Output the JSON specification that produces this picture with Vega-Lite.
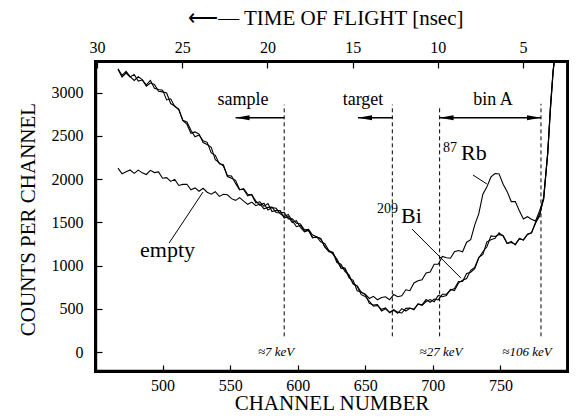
{
  "$schema": "https://vega.github.io/schema/vega-lite/v6.json",
  "width": 473,
  "height": 311,
  "autosize": {"type": "none"},
  "padding": {"left": 95, "top": 61, "right": 8, "bottom": 47},
  "background": "white",
  "config": {
    "view": {"stroke": "black", "strokeWidth": 2},
    "font": "Liberation Serif",
    "axis": {
      "domain": false, "grid": false, "ticks": true,
      "labelFont": "Liberation Serif", "titleFont": "Liberation Serif",
      "labelColor": "black", "titleColor": "black", "tickColor": "black",
      "labelFontSize": 16, "titleFontSize": 21, "titleFontWeight": "normal",
      "tickWidth": 1.2, "labelOverlap": false
    }
  },
  "datasets": {
    "spectra": [
      {"c":467,"Bi":3275,"Rb":3270,"empty":2127},
      {"c":470,"Bi":3200,"Rb":3180,"empty":2062},
      {"c":473,"Bi":3245,"Rb":3225,"empty":2084},
      {"c":476,"Bi":3185,"Rb":3180,"empty":2105},
      {"c":479,"Bi":3140,"Rb":3210,"empty":2066},
      {"c":482,"Bi":3183,"Rb":3133,"empty":2104},
      {"c":485,"Bi":3150,"Rb":3145,"empty":2072},
      {"c":488,"Bi":3088,"Rb":3073,"empty":2053},
      {"c":491,"Bi":3140,"Rb":3110,"empty":2101},
      {"c":494,"Bi":3050,"Rb":3095,"empty":2075},
      {"c":497,"Bi":3035,"Rb":3015,"empty":2083},
      {"c":500,"Bi":3028,"Rb":3008,"empty":2010},
      {"c":503,"Bi":2915,"Rb":2995,"empty":2017},
      {"c":506,"Bi":2928,"Rb":2873,"empty":1973},
      {"c":509,"Bi":2840,"Rb":2845,"empty":1997},
      {"c":512,"Bi":2810,"Rb":2800,"empty":1926},
      {"c":515,"Bi":2675,"Rb":2680,"empty":1939},
      {"c":518,"Bi":2635,"Rb":2660,"empty":1940},
      {"c":521,"Bi":2530,"Rb":2565,"empty":1877},
      {"c":524,"Bi":2545,"Rb":2490,"empty":1898},
      {"c":527,"Bi":2520,"Rb":2510,"empty":1859},
      {"c":530,"Bi":2423,"Rb":2443,"empty":1894},
      {"c":533,"Bi":2400,"Rb":2425,"empty":1848},
      {"c":536,"Bi":2368,"Rb":2303,"empty":1825},
      {"c":539,"Bi":2225,"Rb":2275,"empty":1854},
      {"c":542,"Bi":2188,"Rb":2178,"empty":1800},
      {"c":545,"Bi":2150,"Rb":2165,"empty":1824},
      {"c":548,"Bi":2040,"Rb":2030,"empty":1819},
      {"c":551,"Bi":2035,"Rb":2010,"empty":1774},
      {"c":554,"Bi":1950,"Rb":1985,"empty":1754},
      {"c":557,"Bi":1875,"Rb":1880,"empty":1786},
      {"c":560,"Bi":1890,"Rb":1880,"empty":1745},
      {"c":563,"Bi":1825,"Rb":1805,"empty":1708},
      {"c":566,"Bi":1817,"Rb":1822,"empty":1734},
      {"c":569,"Bi":1725,"Rb":1745,"empty":1693},
      {"c":572,"Bi":1737,"Rb":1697,"empty":1712},
      {"c":575,"Bi":1685,"Rb":1720,"empty":1656},
      {"c":578,"Bi":1718,"Rb":1643,"empty":1673},
      {"c":581,"Bi":1625,"Rb":1670,"empty":1676},
      {"c":584,"Bi":1637,"Rb":1662,"empty":1614},
      {"c":587,"Bi":1635,"Rb":1600,"empty":1608},
      {"c":590,"Bi":1550,"Rb":1565,"empty":1616},
      {"c":593,"Bi":1565,"Rb":1590,"empty":1540},
      {"c":596,"Bi":1498,"Rb":1518,"empty":1542},
      {"c":599,"Bi":1520,"Rb":1450,"empty":1490},
      {"c":602,"Bi":1440,"Rb":1465,"empty":1481},
      {"c":605,"Bi":1390,"Rb":1400,"empty":1414},
      {"c":608,"Bi":1405,"Rb":1410,"empty":1418},
      {"c":611,"Bi":1320,"Rb":1325,"empty":1353},
      {"c":614,"Bi":1333,"Rb":1328,"empty":1334},
      {"c":617,"Bi":1310,"Rb":1315,"empty":1274},
      {"c":620,"Bi":1222,"Rb":1212,"empty":1256},
      {"c":623,"Bi":1160,"Rb":1175,"empty":1173},
      {"c":626,"Bi":1155,"Rb":1150,"empty":1133},
      {"c":629,"Bi":1060,"Rb":1035,"empty":1077},
      {"c":632,"Bi":970,"Rb":1015,"empty":985},
      {"c":635,"Bi":960,"Rb":930,"empty":969},
      {"c":638,"Bi":857,"Rb":892,"empty":871},
      {"c":641,"Bi":830,"Rb":785,"empty":796},
      {"c":644,"Bi":710,"Rb":765,"empty":762},
      {"c":647,"Bi":695,"Rb":690,"empty":664},
      {"c":650,"Bi":665,"Rb":670,"empty":644},
      {"c":653,"Bi":565,"Rb":620,"empty":588},
      {"c":656,"Bi":545,"Rb":645,"empty":532},
      {"c":659,"Bi":550,"Rb":605,"empty":538},
      {"c":662,"Bi":475,"Rb":632,"empty":494},
      {"c":665,"Bi":500,"Rb":640,"empty":511},
      {"c":668,"Bi":460,"Rb":605,"empty":456},
      {"c":671,"Bi":482,"Rb":665,"empty":490},
      {"c":674,"Bi":448,"Rb":640,"empty":462},
      {"c":677,"Bi":503,"Rb":650,"empty":452},
      {"c":680,"Bi":475,"Rb":720,"empty":506},
      {"c":683,"Bi":507,"Rb":710,"empty":510},
      {"c":686,"Bi":498,"Rb":800,"empty":490},
      {"c":689,"Bi":555,"Rb":825,"empty":557},
      {"c":692,"Bi":540,"Rb":835,"empty":547},
      {"c":695,"Bi":585,"Rb":915,"empty":607},
      {"c":698,"Bi":607,"Rb":925,"empty":576},
      {"c":701,"Bi":583,"Rb":1015,"empty":614},
      {"c":704,"Bi":655,"Rb":1015,"empty":603},
      {"c":707,"Bi":640,"Rb":1105,"empty":668},
      {"c":710,"Bi":653,"Rb":1090,"empty":670},
      {"c":713,"Bi":725,"Rb":1085,"empty":715},
      {"c":716,"Bi":710,"Rb":1160,"empty":734},
      {"c":719,"Bi":800,"Rb":1175,"empty":816},
      {"c":722,"Bi":830,"Rb":1160,"empty":816},
      {"c":725,"Bi":850,"Rb":1270,"empty":910},
      {"c":728,"Bi":945,"Rb":1300,"empty":924},
      {"c":731,"Bi":980,"Rb":1470,"empty":964},
      {"c":734,"Bi":1095,"Rb":1600,"empty":1088},
      {"c":737,"Bi":1130,"Rb":1825,"empty":1160},
      {"c":740,"Bi":1275,"Rb":1910,"empty":1218},
      {"c":743,"Bi":1300,"Rb":2025,"empty":1344},
      {"c":746,"Bi":1315,"Rb":2065,"empty":1336},
      {"c":749,"Bi":1380,"Rb":2060,"empty":1358},
      {"c":752,"Bi":1340,"Rb":1940,"empty":1349},
      {"c":755,"Bi":1255,"Rb":1855,"empty":1256},
      {"c":758,"Bi":1280,"Rb":1740,"empty":1266},
      {"c":761,"Bi":1240,"Rb":1740,"empty":1247},
      {"c":764,"Bi":1315,"Rb":1635,"empty":1308},
      {"c":767,"Bi":1295,"Rb":1540,"empty":1298},
      {"c":770,"Bi":1360,"Rb":1565,"empty":1364},
      {"c":773,"Bi":1380,"Rb":1535,"empty":1379},
      {"c":776,"Bi":1500,"Rb":1515,"empty":1490},
      {"c":779,"Bi":1570,"Rb":1635,"empty":1599},
      {"c":782,"Bi":1795,"Rb":1775,"empty":1769},
      {"c":785,"Bi":2290,"Rb":2310,"empty":2303},
      {"c":787,"Bi":2820,"Rb":2840,"empty":2800},
      {"c":789,"Bi":3250,"Rb":3260,"empty":3240},
      {"c":790.5,"Bi":3450,"Rb":3450,"empty":3450}
    ],
    "frame": [
      {"x1":450.7,"x2":450.7,"y1":-230,"y2":3365},
      {"x1":799.5,"x2":799.5,"y1":-230,"y2":3365},
      {"x1":450,"x2":800,"y1":-218,"y2":-218},
      {"x1":450,"x2":800,"y1":3356,"y2":3356}
    ],
    "vlines": [
      {"channel":590,"counts":182,"counts2":2860},
      {"channel":670,"counts":182,"counts2":2860},
      {"channel":705,"counts":182,"counts2":2820},
      {"channel":780,"counts":182,"counts2":2870}
    ],
    "arrows": [
      {"channel":554,"channel2":590,"counts":2710},
      {"channel":644.6,"channel2":670,"counts":2710},
      {"channel":705,"channel2":780,"counts":2710}
    ],
    "heads": [
      {"channel":554,"counts":2710,"dir":"left"},
      {"channel":644.6,"counts":2710,"dir":"left"},
      {"channel":705,"counts":2710,"dir":"left"},
      {"channel":780,"counts":2710,"dir":"right"}
    ],
    "leaders": [
      {"channel":504.8,"counts":1260,"channel2":529.9,"counts2":1850},
      {"channel":684.6,"counts":1422,"channel2":720.8,"counts2":856},
      {"channel":729.7,"counts":2047,"channel2":740,"counts2":1943}
    ],
    "labels": [
      {"kind":"region","channel":559.5,"counts":2860,"text":"sample"},
      {"kind":"region","channel":648.3,"counts":2860,"text":"target"},
      {"kind":"region","channel":744.5,"counts":2860,"text":"bin A"},
      {"kind":"name","channel":720.8,"counts":2226,"text":"Rb"},
      {"kind":"name","channel":676.4,"counts":1488,"text":"Bi"},
      {"kind":"name","channel":483.3,"counts":1095,"text":"empty"},
      {"kind":"mass","channel":707.5,"counts":2310,"text":"87"},
      {"kind":"mass","channel":658.7,"counts":1604,"text":"209"},
      {"kind":"energy","channel":584,"counts":0,"text":"≈7 keV"},
      {"kind":"energy","channel":706,"counts":0,"text":"≈27 keV"},
      {"kind":"energy","channel":769.7,"counts":0,"text":"≈106 keV"}
    ],
    "tof": [{"tof":30},{"tof":5}]
  },
  "resolve": {"scale": {"x": "independent"}, "axis": {"x": "independent"}},
  "layer": [
    {
      "layer": [
        {
          "data": {"name": "spectra"},
          "transform": [{"fold": ["Bi", "Rb", "empty"], "as": ["series", "counts"]}],
          "mark": {"type": "line", "color": "black", "strokeWidth": 1.1, "clip": true},
          "encoding": {
            "x": {"field": "c", "type": "quantitative", "title": "CHANNEL NUMBER",
              "scale": {"domain": [450, 800], "nice": false, "zero": false},
              "axis": {"orient": "bottom", "values": [500,550,600,650,700,750],
                "tickSize": -7, "labelPadding": 12, "titleY": 31, "titleBaseline": "middle"}},
            "y": {"field": "counts", "type": "quantitative", "title": "COUNTS PER CHANNEL",
              "scale": {"domain": [-230, 3365], "nice": false, "zero": false},
              "axis": {"orient": "left", "values": [0,500,1000,1500,2000,2500,3000], "format": "d",
                "tickSize": -7, "labelPadding": 19, "titleX": -67, "titleY": 158, "titleBaseline": "middle", "titleAngle": 270}},
            "detail": {"field": "series"}
          }
        },
        {
          "data": {"name": "vlines"},
          "mark": {"type": "rule", "color": "black", "strokeWidth": 1, "strokeDash": [4, 3]},
          "encoding": {
            "x": {"field": "channel", "type": "quantitative"},
            "y": {"field": "counts", "type": "quantitative"},
            "y2": {"field": "counts2"}
          }
        },
        {
          "data": {"name": "arrows"},
          "mark": {"type": "rule", "color": "black", "strokeWidth": 1.5},
          "encoding": {
            "x": {"field": "channel", "type": "quantitative"},
            "x2": {"field": "channel2"},
            "y": {"field": "counts", "type": "quantitative"}
          }
        },
        {
          "data": {"name": "heads"},
          "mark": {"type": "point", "filled": true, "opacity": 1, "color": "black", "size": 196},
          "encoding": {
            "x": {"field": "channel", "type": "quantitative"},
            "y": {"field": "counts", "type": "quantitative"},
            "shape": {"field": "dir", "type": "nominal", "legend": null,
              "scale": {"domain": ["left", "right"], "range": ["M0,0L2,-0.36L2,0.36Z", "M0,0L-2,-0.36L-2,0.36Z"]}}
          }
        },
        {
          "data": {"name": "leaders"},
          "mark": {"type": "rule", "color": "black", "strokeWidth": 1},
          "encoding": {
            "x": {"field": "channel", "type": "quantitative"},
            "x2": {"field": "channel2"},
            "y": {"field": "counts", "type": "quantitative"},
            "y2": {"field": "counts2"}
          }
        },
        {
          "data": {"name": "labels"},
          "transform": [{"filter": "datum.kind === 'region'"}],
          "mark": {"type": "text", "font": "Liberation Serif", "fontSize": 18, "align": "center", "baseline": "alphabetic", "color": "black"},
          "encoding": {
            "x": {"field": "channel", "type": "quantitative"},
            "y": {"field": "counts", "type": "quantitative"},
            "text": {"field": "text"}
          }
        },
        {
          "data": {"name": "labels"},
          "transform": [{"filter": "datum.kind === 'name'"}],
          "mark": {"type": "text", "font": "Liberation Serif", "fontSize": 22, "align": "left", "baseline": "alphabetic", "color": "black"},
          "encoding": {
            "x": {"field": "channel", "type": "quantitative"},
            "y": {"field": "counts", "type": "quantitative"},
            "text": {"field": "text"}
          }
        },
        {
          "data": {"name": "labels"},
          "transform": [{"filter": "datum.kind === 'mass'"}],
          "mark": {"type": "text", "font": "Liberation Serif", "fontSize": 14, "align": "left", "baseline": "alphabetic", "color": "black"},
          "encoding": {
            "x": {"field": "channel", "type": "quantitative"},
            "y": {"field": "counts", "type": "quantitative"},
            "text": {"field": "text"}
          }
        },
        {
          "data": {"name": "labels"},
          "transform": [{"filter": "datum.kind === 'energy'"}],
          "mark": {"type": "text", "font": "Liberation Serif", "fontSize": 13, "fontStyle": "italic", "align": "center", "baseline": "middle", "color": "black"},
          "encoding": {
            "x": {"field": "channel", "type": "quantitative"},
            "y": {"field": "counts", "type": "quantitative"},
            "text": {"field": "text"}
          }
        },
        {
          "data": {"name": "frame"},
          "mark": {"type": "rule", "color": "black", "strokeWidth": 2.5},
          "encoding": {
            "x": {"field": "x1", "type": "quantitative"},
            "x2": {"field": "x2"},
            "y": {"field": "y1", "type": "quantitative"},
            "y2": {"field": "y2"}
          }
        }
      ]
    },
    {
      "data": {"name": "tof"},
      "mark": {"type": "point", "opacity": 0},
      "encoding": {
        "x": {"field": "tof", "type": "quantitative", "title": "⟵— TIME OF FLIGHT [nsec]",
          "scale": {"domain": [30.12, 2.36], "nice": false, "zero": false},
          "axis": {"orient": "top", "values": [30,25,20,15,10,5],
            "tickSize": -7, "labelPadding": 13, "titleX": 368, "titleY": -43, "titleAlign": "right", "titleBaseline": "middle"}}
      }
    }
  ]
}
